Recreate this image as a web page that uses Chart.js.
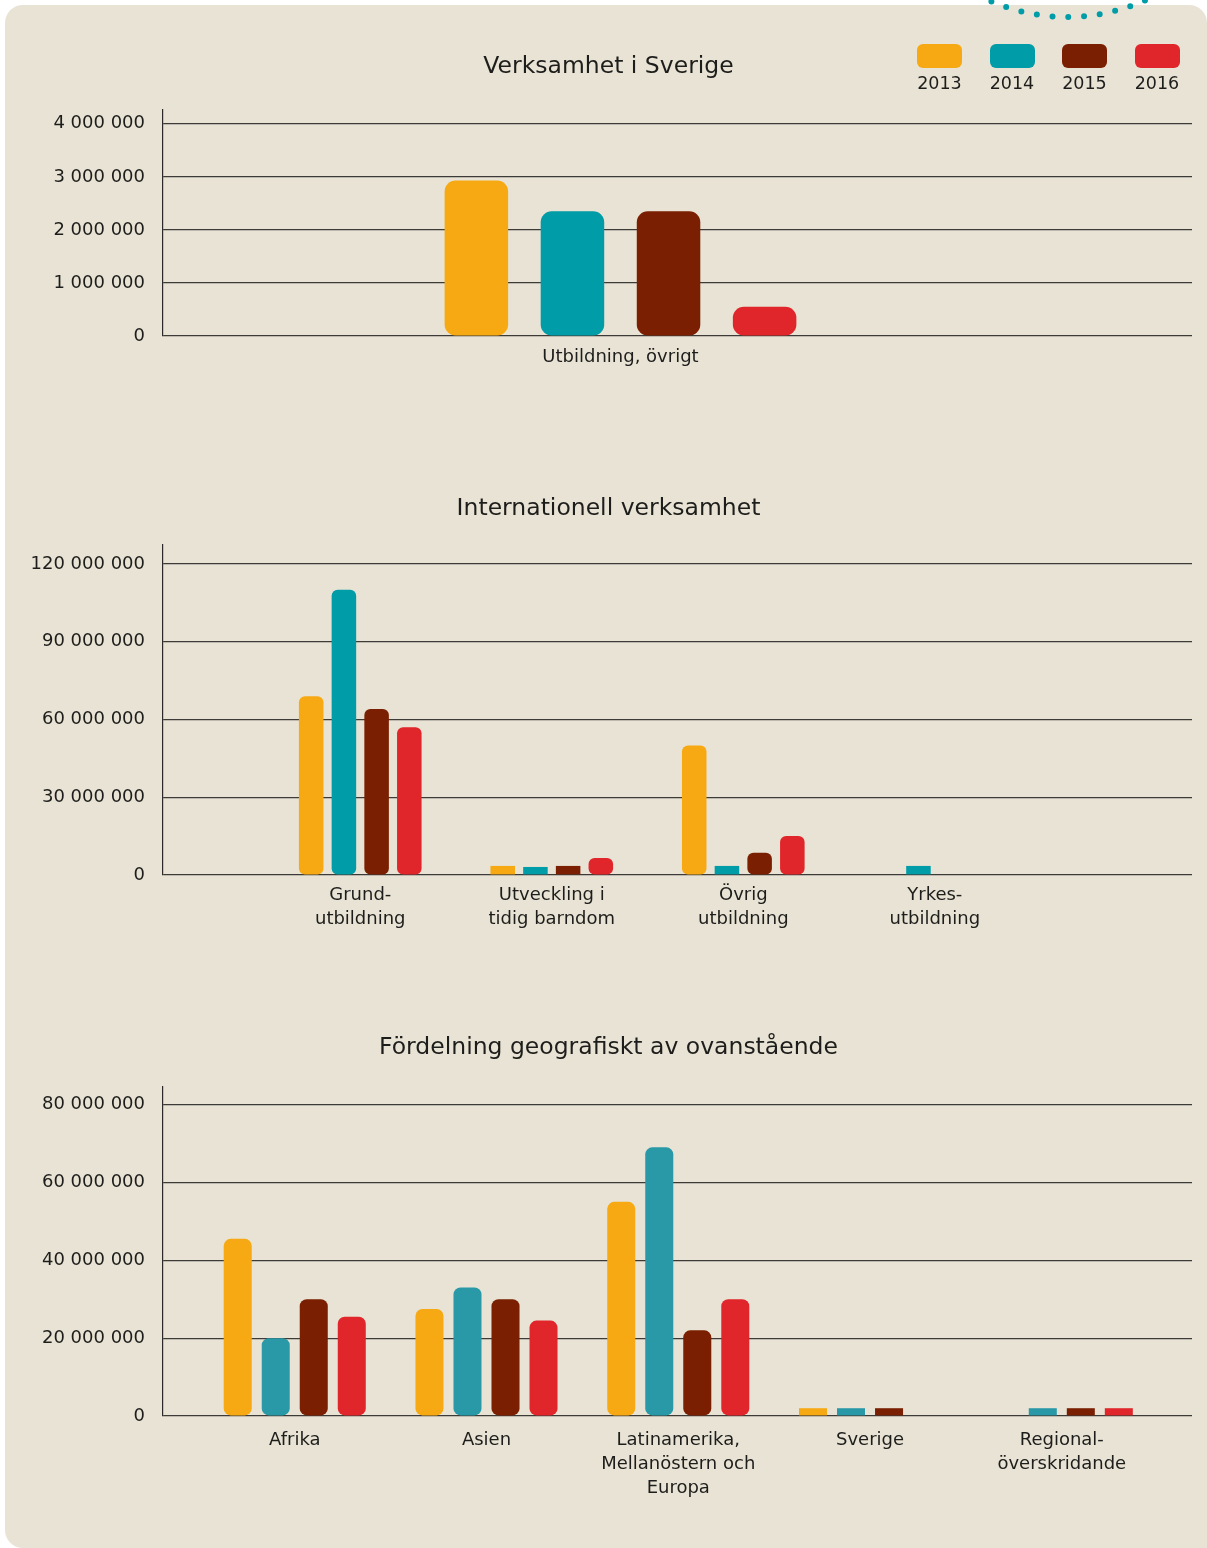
<!DOCTYPE html>
<html><head><meta charset="utf-8">
<script src="https://cdn.jsdelivr.net/npm/chart.js@4.4.1/dist/chart.umd.min.js"></script>
<style>
html,body{margin:0;padding:0;background:#fff;}
body{width:1207px;height:1548px;position:relative;overflow:hidden;font-family:"DejaVu Sans",sans-serif;}
#panel{position:absolute;left:5px;top:5px;width:1202px;height:1543px;background:#E8E3D4;border-radius:18px 18px 0 18px;}
#deco{position:absolute;left:0;top:0;z-index:3;}
.cv{position:absolute;left:10px;}
#legend{position:absolute;left:917px;top:44px;display:flex;gap:27.5px;z-index:4;}
.li{display:flex;flex-direction:column;align-items:center;width:45px;}
.sw{width:45px;height:24px;border-radius:6px;}
.lt{margin-top:5px;font-size:17.5px;line-height:21px;color:#1d1d1b;}
</style></head>
<body>
<div id="panel"></div>
<svg id="deco" width="1207" height="40"><circle cx="1067" cy="-175" r="192" fill="none" stroke="#009CA8" stroke-width="6" stroke-linecap="round" stroke-dasharray="0 15.8"/></svg>
<div id="legend"></div>
<canvas id="c1" class="cv" width="1197" height="366" style="top:20px"></canvas>
<canvas id="c2" class="cv" width="1197" height="505" style="top:440px"></canvas>
<canvas id="c3" class="cv" width="1197" height="536" style="top:980px"></canvas>
<script>
// ---- data ----
const years = ['2013', '2014', '2015', '2016'];
const yearColors = ['#F7A913', '#009CA8', '#7A1F01', '#E0262A'];
const yearColors3 = ['#F7A913', '#2999A8', '#7A1F01', '#E0262A'];

const title1 = 'Verksamhet i Sverige';
const categories1 = ['Utbildning, övrigt'];
const sverige2013 = [2930000];
const sverige2014 = [2350000];
const sverige2015 = [2350000];
const sverige2016 = [550000];
const yTicks1 = [0, 1000000, 2000000, 3000000, 4000000];

const title2 = 'Internationell verksamhet';
const categories2 = [['Grund-', 'utbildning'], ['Utveckling i', 'tidig barndom'], ['Övrig', 'utbildning'], ['Yrkes-', 'utbildning']];
const intl2013 = [69000000, 3500000, 50000000, null];
const intl2014 = [110000000, 3100000, 3500000, 3500000];
const intl2015 = [64000000, 3500000, 8600000, null];
const intl2016 = [57000000, 6600000, 15000000, null];
const yTicks2 = [0, 30000000, 60000000, 90000000, 120000000];

const title3 = 'Fördelning geografiskt av ovanstående';
const categories3 = ['Afrika', 'Asien', ['Latinamerika,', 'Mellanöstern och', 'Europa'], 'Sverige', ['Regional-', 'överskridande']];
const geo2013 = [45500000, 27500000, 55000000, 2000000, null];
const geo2014 = [20000000, 33000000, 69000000, 2000000, 2000000];
const geo2015 = [30000000, 30000000, 22000000, 2000000, 2000000];
const geo2016 = [25500000, 24500000, 30000000, null, 2000000];
const yTicks3 = [0, 20000000, 40000000, 60000000, 80000000];

// ---- legend ----
const lg = document.getElementById('legend');
years.forEach((y, i) => {
  const d = document.createElement('div'); d.className = 'li';
  d.innerHTML = '<div class="sw" style="background:' + yearColors[i] + '"></div><div class="lt">' + y + '</div>';
  lg.appendChild(d);
});

// ---- charts ----
const FONT = '"DejaVu Sans", sans-serif';
const TXT = '#1d1d1b';
const fmt = v => String(v).replace(/\B(?=(\d{3})+(?!\d))/g, ' ');

function makeChart(id, cfg) {
  const datasets = cfg.series.map((vals, k) => ({
    label: years[k],
    data: vals.map((v, i) => ({ x: i, y: v })),
    backgroundColor: cfg.colors[k],
    borderSkipped: false,
    borderWidth: 0,
    borderRadius: ctx => {
      const ys = ctx.chart.scales.y;
      const v = ctx.raw && ctx.raw.y;
      if (v == null || !ys) return cfg.radius;
      const h = Math.abs(ys.getPixelForValue(0) - ys.getPixelForValue(v));
      return h < 13 ? 0 : cfg.radius;
    },
    categoryPercentage: cfg.catPct,
    barPercentage: cfg.barPct
  }));
  return new Chart(document.getElementById(id), {
    type: 'bar',
    data: { datasets },
    options: {
      responsive: false,
      animation: false,
      devicePixelRatio: 1,
      layout: { padding: { left: 15, right: 15, top: 0, bottom: 0 } },
      plugins: {
        legend: { display: false },
        tooltip: { enabled: false },
        title: {
          display: true, text: cfg.title, color: TXT,
          font: { family: FONT, size: 23.5, weight: 'normal', lineHeight: 1.2 },
          padding: { top: cfg.titleTop, bottom: cfg.titleBottom }
        }
      },
      scales: {
        x: {
          type: 'linear', min: cfg.xMin, max: cfg.xMax, offset: false,
          grid: { display: false, drawTicks: false },
          border: { display: false },
          afterBuildTicks: s => { s.ticks = cfg.categories.map((c, i) => ({ value: i })); },
          afterFit: s => { s.height = cfg.xHeight; },
          ticks: {
            autoSkip: false, maxRotation: 0, padding: cfg.xPad, color: TXT,
            font: { family: FONT, size: 18, lineHeight: 1.333 },
            callback: v => cfg.categories[v] !== undefined ? cfg.categories[v] : ''
          }
        },
        y: {
          min: 0, max: cfg.yMax,
          afterBuildTicks: s => { s.ticks = cfg.yTicks.map(v => ({ value: v })); },
          afterFit: s => { s.width = 138; },
          grid: { color: '#3d3b38', lineWidth: 1.2, drawTicks: false },
          border: { display: true, color: '#2b2a28', width: 1.2 },
          ticks: {
            padding: 18, color: TXT,
            font: { family: FONT, size: 18 },
            callback: v => fmt(v)
          }
        }
      }
    }
  });
}

makeChart('c1', {
  title: title1, categories: categories1, yTicks: yTicks1, yMax: 4260000,
  series: [sverige2013, sverige2014, sverige2015, sverige2016], colors: yearColors,
  radius: 11, catPct: 0.3735, barPct: 0.661,
  xMin: -0.4446, xMax: 0.5554,
  titleTop: 32.4, titleBottom: 29.4, xHeight: 50, xPad: 9
});
makeChart('c2', {
  title: title2, categories: categories2, yTicks: yTicks2, yMax: 127300000,
  series: [intl2013, intl2014, intl2015, intl2016], colors: yearColors,
  radius: 6, catPct: 0.683, barPct: 0.75,
  xMin: -1.030, xMax: 4.343,
  titleTop: 54.4, titleBottom: 22.4, xHeight: 70, xPad: 8
});
makeChart('c3', {
  title: title3, categories: categories3, yTicks: yTicks3, yMax: 84500000,
  series: [geo2013, geo2014, geo2015, geo2016], colors: yearColors3,
  radius: 7, catPct: 0.793, barPct: 0.737,
  xMin: -0.687, xMax: 4.679,
  titleTop: 53.9, titleBottom: 24.9, xHeight: 100, xPad: 12
});
</script>
</body></html>
